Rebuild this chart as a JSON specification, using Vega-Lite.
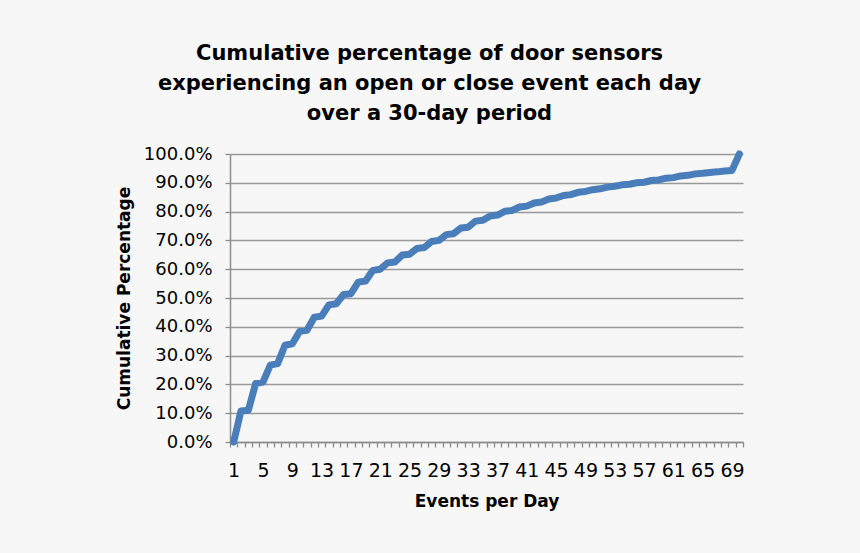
{
  "$schema": "https://vega.github.io/schema/vega-lite/v6.json",
  "width": 513,
  "height": 288,
  "autosize": "none",
  "padding": {"left": 230, "top": 154, "right": 117, "bottom": 111},
  "background": "#f7f7f7",
  "title": {
    "text": ["Cumulative percentage of door sensors", "experiencing an open or close event each day", "over a 30-day period"],
    "font": "DejaVu Sans",
    "fontSize": 21,
    "fontWeight": "bold",
    "color": "#000000",
    "lineHeight": 30,
    "anchor": "middle",
    "frame": "group",
    "dx": -57,
    "offset": 21
  },
  "config": {
    "view": {"stroke": null},
    "axis": {
      "labelFont": "DejaVu Sans",
      "labelFontSize": 18,
      "labelColor": "#000000",
      "titleFont": "DejaVu Sans",
      "titleFontSize": 17,
      "titleFontWeight": "bold",
      "titleColor": "#000000",
      "domainColor": "#8c8c8c",
      "domainWidth": 1.5,
      "tickColor": "#8c8c8c",
      "tickWidth": 1.3,
      "gridColor": "#999999",
      "gridWidth": 1.3
    }
  },
  "data": {
    "values": [
      {"events": 1, "pct": 0.0},
      {"events": 2, "pct": 0.108},
      {"events": 3, "pct": 0.110},
      {"events": 4, "pct": 0.203},
      {"events": 5, "pct": 0.208},
      {"events": 6, "pct": 0.267},
      {"events": 7, "pct": 0.272},
      {"events": 8, "pct": 0.336},
      {"events": 9, "pct": 0.341},
      {"events": 10, "pct": 0.384},
      {"events": 11, "pct": 0.388},
      {"events": 12, "pct": 0.433},
      {"events": 13, "pct": 0.437},
      {"events": 14, "pct": 0.476},
      {"events": 15, "pct": 0.480},
      {"events": 16, "pct": 0.512},
      {"events": 17, "pct": 0.515},
      {"events": 18, "pct": 0.555},
      {"events": 19, "pct": 0.559},
      {"events": 20, "pct": 0.596},
      {"events": 21, "pct": 0.600},
      {"events": 22, "pct": 0.622},
      {"events": 23, "pct": 0.625},
      {"events": 24, "pct": 0.649},
      {"events": 25, "pct": 0.652},
      {"events": 26, "pct": 0.672},
      {"events": 27, "pct": 0.675},
      {"events": 28, "pct": 0.696},
      {"events": 29, "pct": 0.700},
      {"events": 30, "pct": 0.720},
      {"events": 31, "pct": 0.723},
      {"events": 32, "pct": 0.743},
      {"events": 33, "pct": 0.746},
      {"events": 34, "pct": 0.767},
      {"events": 35, "pct": 0.770},
      {"events": 36, "pct": 0.785},
      {"events": 37, "pct": 0.788},
      {"events": 38, "pct": 0.801},
      {"events": 39, "pct": 0.804},
      {"events": 40, "pct": 0.816},
      {"events": 41, "pct": 0.819},
      {"events": 42, "pct": 0.830},
      {"events": 43, "pct": 0.833},
      {"events": 44, "pct": 0.844},
      {"events": 45, "pct": 0.847},
      {"events": 46, "pct": 0.856},
      {"events": 47, "pct": 0.859},
      {"events": 48, "pct": 0.867},
      {"events": 49, "pct": 0.870},
      {"events": 50, "pct": 0.876},
      {"events": 51, "pct": 0.879},
      {"events": 52, "pct": 0.885},
      {"events": 53, "pct": 0.888},
      {"events": 54, "pct": 0.893},
      {"events": 55, "pct": 0.895},
      {"events": 56, "pct": 0.900},
      {"events": 57, "pct": 0.902},
      {"events": 58, "pct": 0.908},
      {"events": 59, "pct": 0.910},
      {"events": 60, "pct": 0.916},
      {"events": 61, "pct": 0.918},
      {"events": 62, "pct": 0.924},
      {"events": 63, "pct": 0.926},
      {"events": 64, "pct": 0.931},
      {"events": 65, "pct": 0.933},
      {"events": 66, "pct": 0.936},
      {"events": 67, "pct": 0.938},
      {"events": 68, "pct": 0.941},
      {"events": 69, "pct": 0.943},
      {"events": 70, "pct": 1.0}
    ]
  },
  "mark": {"type": "line", "color": "#4a7ebb", "strokeWidth": 7, "strokeJoin": "round", "strokeCap": "round", "clip": false},
  "encoding": {
    "x": {
      "field": "events",
      "type": "ordinal",
      "title": "Events per Day",
      "scale": {"type": "band", "paddingInner": 0, "paddingOuter": 0},
      "axis": {
        "grid": false,
        "labelAngle": 0,
        "labelFontSize": 19,
        "labelExpr": "(datum.value - 1) % 4 == 0 ? datum.label : ''",
        "labelOverlap": false,
        "labelFlush": false,
        "tickBand": "extent",
        "tickSize": 5,
        "labelPadding": 14,
        "titlePadding": 13
      }
    },
    "y": {
      "field": "pct",
      "type": "quantitative",
      "title": "Cumulative Percentage",
      "scale": {"domain": [0, 1], "nice": false},
      "axis": {
        "values": [0, 0.1, 0.2, 0.3, 0.4, 0.5, 0.6, 0.7, 0.8, 0.9, 1.0],
        "format": ".1%",
        "tickSize": 5,
        "labelPadding": 13,
        "titlePadding": 10
      }
    }
  }
}
